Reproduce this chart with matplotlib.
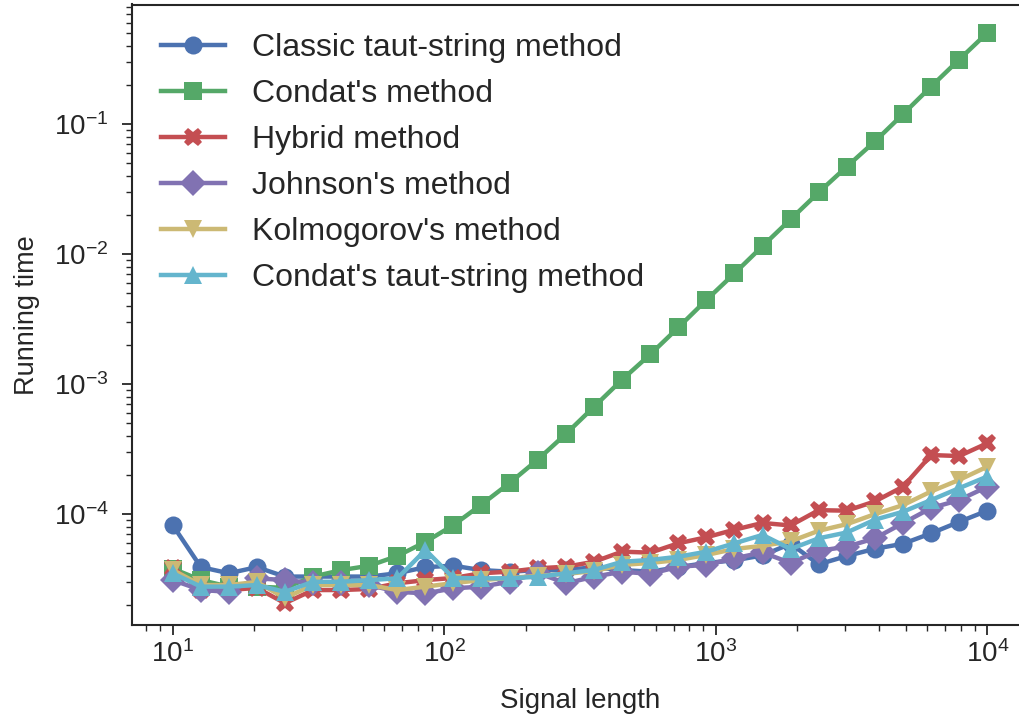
import numpy as np
import matplotlib
matplotlib.use("Agg")
import matplotlib.pyplot as plt

# signal lengths (logspace 10 .. 10^4, 30 points)
lengths = [10, 12.7, 16.1, 20.4, 25.9, 32.9, 41.8, 53.0, 67.2, 85.3,
           108, 137, 174, 221, 281, 356, 452, 574, 728, 924,
           1172, 1487, 1887, 2395, 3039, 3857, 4894, 6210, 7880, 10000]

classic = [8.2e-5, 3.9e-5, 3.5e-5, 3.9e-5, 3.3e-5, 3.3e-5, 3.3e-5, 3.3e-5, 3.5e-5, 3.9e-5,
           4.0e-5, 3.7e-5, 3.6e-5, 3.7e-5, 3.7e-5, 3.9e-5, 3.7e-5, 3.6e-5, 3.9e-5, 4.2e-5,
           4.4e-5, 4.8e-5, 5.9e-5, 4.1e-5, 4.75e-5, 5.4e-5, 5.9e-5, 7.1e-5, 8.7e-5, 1.06e-4]
condat = [3.8e-5, 3.1e-5, 2.76e-5, 2.76e-5, 2.7e-5, 3.3e-5, 3.7e-5, 4.0e-5, 4.75e-5, 6.1e-5,
          8.2e-5, 1.18e-4, 1.73e-4, 2.62e-4, 4.14e-4, 6.67e-4, 1.08e-3, 1.69e-3, 2.72e-3, 4.43e-3,
          7.09e-3, 1.15e-2, 1.85e-2, 2.98e-2, 4.7e-2, 7.35e-2, 0.119, 0.194, 0.313, 0.502]
hybrid = [3.86e-5, 2.6e-5, 2.6e-5, 2.7e-5, 2.06e-5, 2.6e-5, 2.6e-5, 2.65e-5, 2.93e-5, 3.1e-5,
          3.22e-5, 3.5e-5, 3.6e-5, 3.82e-5, 3.93e-5, 4.29e-5, 5.13e-5, 5.04e-5, 5.95e-5, 6.62e-5,
          7.57e-5, 8.53e-5, 8.16e-5, 1.07e-4, 1.06e-4, 1.25e-4, 1.62e-4, 2.84e-4, 2.79e-4, 3.5e-4]
johnson = [3.1e-5, 2.6e-5, 2.52e-5, 3.2e-5, 3.1e-5, 2.94e-5, 2.94e-5, 2.84e-5, 2.52e-5, 2.45e-5,
           2.68e-5, 2.76e-5, 3.01e-5, 3.52e-5, 2.93e-5, 3.29e-5, 3.6e-5, 3.46e-5, 3.93e-5, 4.06e-5,
           4.56e-5, 5.06e-5, 4.2e-5, 5.21e-5, 5.6e-5, 6.5e-5, 8.5e-5, 1.11e-4, 1.28e-4, 1.62e-4]
kolmogorov = [3.71e-5, 2.84e-5, 2.84e-5, 3.0e-5, 2.26e-5, 2.84e-5, 2.84e-5, 2.84e-5, 2.6e-5, 2.76e-5,
              2.94e-5, 3.1e-5, 3.22e-5, 3.34e-5, 3.46e-5, 3.64e-5, 4.06e-5, 4.2e-5, 4.43e-5, 4.84e-5,
              5.38e-5, 5.69e-5, 6.16e-5, 7.43e-5, 8.35e-5, 9.97e-5, 1.17e-4, 1.49e-4, 1.83e-4, 2.31e-4]
condat_ts = [3.5e-5, 2.76e-5, 2.76e-5, 2.84e-5, 2.52e-5, 3.01e-5, 3.01e-5, 3.1e-5, 3.2e-5, 5.28e-5,
             3.22e-5, 3.2e-5, 3.2e-5, 3.29e-5, 3.5e-5, 3.71e-5, 4.29e-5, 4.43e-5, 4.69e-5, 5.13e-5,
             5.95e-5, 6.9e-5, 5.38e-5, 6.5e-5, 7.21e-5, 9.04e-5, 1.04e-4, 1.28e-4, 1.58e-4, 1.94e-4]

labels = ["Classic taut-string method", "Condat's method", "Hybrid method",
          "Johnson's method", "Kolmogorov's method", "Condat's taut-string method"]
colors = ["#4C72B0", "#55A868", "#C44E52", "#8172B2", "#CCB974", "#64B5CD"]
markers = ["o", "s", "X", "D", "v", "^"]

plt.rcParams["font.family"] = ["Liberation Sans", "DejaVu Sans"]
plt.rcParams["text.color"] = "#262626"
plt.rcParams["axes.labelcolor"] = "#262626"
plt.rcParams["xtick.color"] = "#262626"
plt.rcParams["ytick.color"] = "#262626"

fig = plt.figure(figsize=(10.2, 7.17), dpi=100)
ax = fig.add_axes([132 / 1020, 1 - 625 / 717, (1028 - 132) / 1020, (625 - 4.5) / 717])

series = [classic, condat, hybrid, johnson, kolmogorov, condat_ts]
for ys, lab, c, m in zip(series, labels, colors, markers):
    ax.plot(lengths, ys, marker=m, color=c, label=lab, lw=3.2, ms=13, mew=0)

ax.set_xscale("log")
ax.set_yscale("log")
ax.set_xlim(10 ** 0.85, 10 ** 4.15)
ax.set_ylim(10 ** -4.854, 10 ** -0.081)

ax.set_xlabel("Signal length", fontsize=20, labelpad=14)
ax.set_ylabel("Running time", fontsize=19.5, labelpad=10)
ax.tick_params(which="major", direction="out", length=7, width=1.3, labelsize=20)
ax.tick_params(axis="x", which="major", pad=4)
ax.tick_params(axis="y", which="major", pad=10)
ax.tick_params(which="minor", direction="out", length=4, width=1.0)
for s in ax.spines.values():
    s.set_color("#262626")
    s.set_linewidth(1.5)
ax.spines["right"].set_visible(False)

ax.legend(loc="upper left", frameon=False, fontsize=23, handlelength=2.0,
          handletextpad=0.85, bbox_to_anchor=(0.0, 1.0), labelspacing=0.5)

fig.savefig("out.png", dpi=100)
